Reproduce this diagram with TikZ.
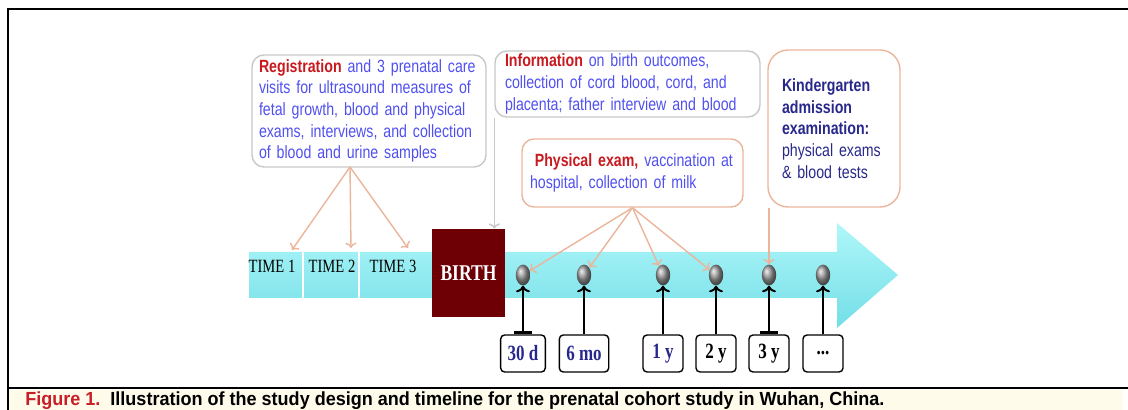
\documentclass[tikz,border=0pt]{standalone}
\usepackage{fontspec}
\setmainfont{Liberation Sans}[FakeStretch=0.8]
\newfontfamily\timesfont{Liberation Serif}[FakeStretch=0.78]
\newfontfamily\capfont{Liberation Sans}[FakeStretch=0.95]
\usetikzlibrary{arrows.meta,shapes.geometric}

\definecolor{peach}{RGB}{235,181,155}
\definecolor{boxgray}{RGB}{200,200,200}
\definecolor{hired}{RGB}{200,25,30}
\definecolor{textblue}{RGB}{80,80,240}
\definecolor{navy}{RGB}{40,40,140}
\definecolor{birthred}{RGB}{110,0,5}
\definecolor{cyantop}{RGB}{175,247,250}
\definecolor{cyanbot}{RGB}{115,222,230}
\definecolor{capbg}{RGB}{255,251,235}
\definecolor{capred}{RGB}{200,30,40}

\tikzset{
  infobox/.style={draw=boxgray,line width=1pt,rounded corners=3mm,align=left,
    inner xsep=2.5mm,inner ysep=0pt,text=textblue,
    font=\fontsize{12.6}{15.4}\selectfont},
  peachbox/.style={infobox,draw=peach},
  timelbl/.style={font=\timesfont\fontsize{13.3}{15}\selectfont,inner sep=0pt},
  dot/.style={ellipse,shading=ball,ball color=gray!80,minimum width=3.6mm,
    minimum height=5.2mm,inner sep=0pt},
  agebox/.style={draw,line width=1pt,rounded corners=1mm,minimum width=10mm,
    minimum height=9.25mm,inner xsep=1.75mm,
    font=\timesfont\bfseries\fontsize{15.5}{17}\selectfont},
  peacharrow/.style={->,draw=peach,line width=1pt},
  agearrow/.style={->,line width=1.4pt},
}

\begin{document}
\begin{tikzpicture}[x=.25mm,y=-.25mm]
\useasboundingbox (0,0) rectangle (1128,410);

% frame and caption
\fill[capbg] (8,390) rectangle (1123,410);
\draw[line width=1.4pt] (1128,9) -- (8,9) -- (8,410);
\draw[line width=1.4pt] (8,388) -- (1128,388);
\node[anchor=base west,inner sep=0pt,font=\capfont\bfseries\fontsize{13.5}{15}\selectfont] (cap) at (25,406)
  {\textcolor{capred}{Figure 1.}\ \ Illustration of the study design and timeline for the prenatal cohort study in Wuhan, China.};

% timeline arrow
\shade[top color=cyantop,bottom color=cyanbot] (249,252) -- (837,252) -- (837,223) -- (898,275)
  -- (837,328) -- (837,298) -- (249,298) -- cycle;
\draw[white,line width=2pt] (303,252) -- (303,298) (359,252) -- (359,298);

\node[timelbl] (t1) at (272,266) {TIME 1};
\node[timelbl] (t2) at (332,266) {TIME 2};
\node[timelbl] (t3) at (393,266) {TIME 3};
\node[fill=birthred,minimum width=18.25mm,minimum height=22mm,text=white,
  font=\timesfont\bfseries\fontsize{16}{18}\selectfont] (birth) at (468.5,273) {BIRTH};

\foreach \x [count=\i] in {523,584,663,716,769,823}
  \node[dot] (d\i) at (\x,275) {};

\node[agebox,text=navy] (a1) at (523,353.5) {30 d};
\node[agebox,text=navy] (a2) at (584,353.5) {6 mo};
\node[agebox,text=navy] (a3) at (663,353.5) {1 y};
\node[agebox] (a4) at (716,353.5) {2 y};
\node[agebox] (a5) at (769,353.5) {3 y};
\node[agebox] (a6) at (823,353.5) {...};

\draw[agearrow,{Bar[width=4.5mm,line width=2pt]}->] (a1) -- (d1);
\draw[agearrow] (a2) -- (d2);
\draw[agearrow] (a3) -- (d3);
\draw[agearrow] (a4) -- (d4);
\draw[agearrow,{Bar[width=4.5mm,line width=2pt]}->] (a5) -- (d5);
\draw[agearrow] (a6) -- (d6);

% text boxes
\node[infobox,text width=55mm,inner xsep=1.75mm,minimum height=28mm] (reg) at (369,111)
  {\textcolor{hired}{\textbf{Registration}} and 3 prenatal care\\
   visits for ultrasound measures of\\
   fetal growth, blood and physical\\
   exams, interviews, and collection\\
   of blood and urine samples};
\node[infobox,text width=61.25mm,minimum height=16.5mm] (info) at (627.5,84)
  {\textcolor{hired}{\textbf{Information}} on birth outcomes,\\
   collection of cord blood, cord, and\\
   placenta; father interview and blood};
\node[peachbox,text width=26mm,inner xsep=3.5mm,minimum height=39.25mm,
  rounded corners=5mm,text=navy] (kg) at (834,128.5)
  {\textbf{Kindergarten}\\ \textbf{admission}\\ \textbf{examination:}\\
   physical exams\\ \& blood tests};
\node[peachbox,text width=51.25mm,inner xsep=2mm,minimum height=17mm] (pe) at (632.5,173)
  {\hspace*{1.2mm}\textcolor{hired}{\textbf{Physical exam,}} vaccination at\\
   hospital, collection of milk};

% connectors
\coordinate (regout) at (350,167);
\coordinate (p1) at (292,250);
\coordinate (p2) at (351,248);
\coordinate (p3) at (408,248);
\draw[peacharrow] (regout) -- (p1);
\draw[peacharrow] (regout) -- (p2);
\draw[peacharrow] (regout) -- (p3);

\draw[->,draw=boxgray,line width=1pt] (info.south west) -- (info.south west |- birth.north);

\draw[peacharrow] (pe.south) -- (d1);
\draw[peacharrow] (pe.south) -- (d2);
\draw[peacharrow] (pe.south) -- (d3);
\draw[peacharrow] (pe.south) -- (d4);
\draw[peacharrow] (d5.north |- kg.south) -- (d5.north);

\end{tikzpicture}
\end{document}
